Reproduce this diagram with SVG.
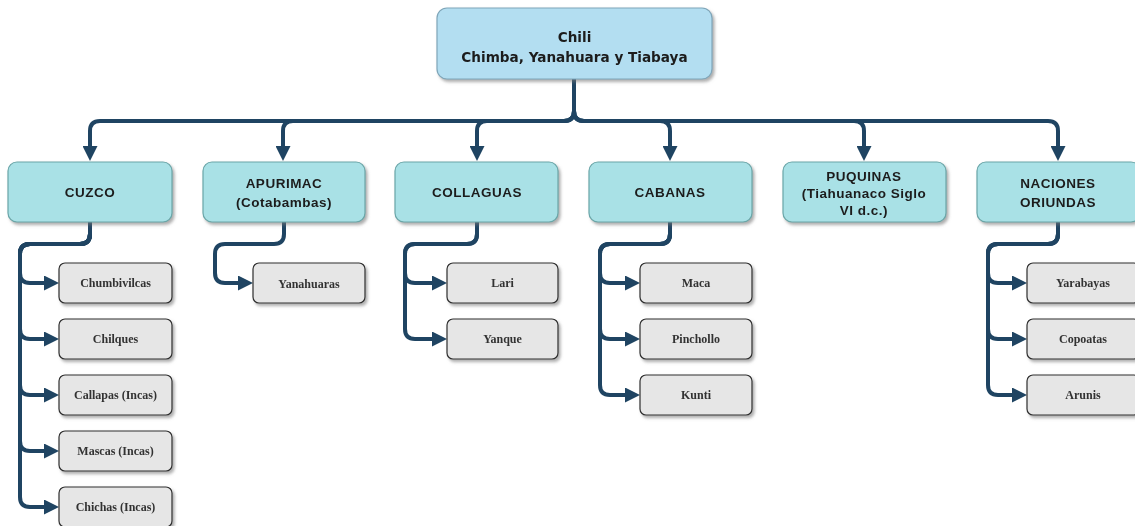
<svg xmlns="http://www.w3.org/2000/svg" width="1135" height="526" viewBox="0 0 1135 526">
<style>
.root{fill:#b3def1;stroke:#7fa6b9;stroke-width:1.2}
.main{fill:#a9e1e6;stroke:#6aa6a8;stroke-width:1.2}
.sub{fill:#e6e6e6;stroke:#2e2e2e;stroke-width:1.2}
.rt{font-family:"DejaVu Sans",Verdana,sans-serif;font-weight:bold;font-size:13.6px;fill:#1d1d1d;text-anchor:middle}
.mt{font-family:"Liberation Sans",Arial,sans-serif;font-weight:bold;font-size:13.5px;letter-spacing:0.5px;fill:#1d1d1d;text-anchor:middle}
.st{font-family:"Liberation Serif","Times New Roman",serif;font-weight:bold;font-size:12px;fill:#333;text-anchor:middle}
.c{fill:none;stroke:#1f4462;stroke-width:4;marker-end:url(#ah)}
</style>
<defs>
<marker id="ah" viewBox="0 0 10 10" refX="0" refY="5" markerWidth="15" markerHeight="15" markerUnits="userSpaceOnUse" orient="auto">
<path d="M0,0 L10,5 L0,10 z" fill="#1f4462"/>
</marker>
<filter id="sh" x="-10%" y="-10%" width="130%" height="140%">
<feDropShadow dx="2" dy="2.5" stdDeviation="1.5" flood-color="#777" flood-opacity="0.6"/>
</filter>
</defs>

<g id="connectors">
<path class="c" d="M574,79 V111 Q574,121 564,121 H100 Q90,121 90,131 V146"/>
<path class="c" d="M574,79 V111 Q574,121 564,121 H293 Q283,121 283,131 V146"/>
<path class="c" d="M574,79 V111 Q574,121 564,121 H487 Q477,121 477,131 V146"/>
<path class="c" d="M574,79 V111 Q574,121 584,121 H660 Q670,121 670,131 V146"/>
<path class="c" d="M574,79 V111 Q574,121 584,121 H854 Q864,121 864,131 V146"/>
<path class="c" d="M574,79 V111 Q574,121 584,121 H1048 Q1058,121 1058,131 V146"/>

<path class="c" d="M90,222 V234 Q90,244 80,244 H30 Q20,244 20,254 V273 Q20,283 30,283 H44"/>
<path class="c" d="M90,222 V234 Q90,244 80,244 H30 Q20,244 20,254 V329 Q20,339 30,339 H44"/>
<path class="c" d="M90,222 V234 Q90,244 80,244 H30 Q20,244 20,254 V385 Q20,395 30,395 H44"/>
<path class="c" d="M90,222 V234 Q90,244 80,244 H30 Q20,244 20,254 V441 Q20,451 30,451 H44"/>
<path class="c" d="M90,222 V234 Q90,244 80,244 H30 Q20,244 20,254 V497 Q20,507 30,507 H44"/>

<path class="c" d="M284,222 V234 Q284,244 274,244 H225 Q215,244 215,254 V273 Q215,283 225,283 H238"/>

<path class="c" d="M477,222 V234 Q477,244 467,244 H415 Q405,244 405,254 V273 Q405,283 415,283 H432"/>
<path class="c" d="M477,222 V234 Q477,244 467,244 H415 Q405,244 405,254 V329 Q405,339 415,339 H432"/>

<path class="c" d="M670,222 V234 Q670,244 660,244 H610 Q600,244 600,254 V273 Q600,283 610,283 H625"/>
<path class="c" d="M670,222 V234 Q670,244 660,244 H610 Q600,244 600,254 V329 Q600,339 610,339 H625"/>
<path class="c" d="M670,222 V234 Q670,244 660,244 H610 Q600,244 600,254 V385 Q600,395 610,395 H625"/>

<path class="c" d="M1058,222 V234 Q1058,244 1048,244 H998 Q988,244 988,254 V273 Q988,283 998,283 H1012"/>
<path class="c" d="M1058,222 V234 Q1058,244 1048,244 H998 Q988,244 988,254 V329 Q988,339 998,339 H1012"/>
<path class="c" d="M1058,222 V234 Q1058,244 1048,244 H998 Q988,244 988,254 V385 Q988,395 998,395 H1012"/>
</g>

<g id="root" filter="url(#sh)">
<rect class="root" x="437" y="8" width="275" height="71" rx="10"/>
<text class="rt" x="574.5" y="42">Chili</text>
<text class="rt" x="574.5" y="62">Chimba, Yanahuara y Tiabaya</text>
</g>

<g id="cuzco" filter="url(#sh)">
<rect class="main" x="8" y="162" width="164" height="60" rx="9"/>
<text class="mt" x="90" y="197">CUZCO</text>
</g>
<g id="apurimac" filter="url(#sh)">
<rect class="main" x="203" y="162" width="162" height="60" rx="9"/>
<text class="mt" x="284" y="188">APURIMAC</text>
<text class="mt" x="284" y="207">(Cotabambas)</text>
</g>
<g id="collaguas" filter="url(#sh)">
<rect class="main" x="395" y="162" width="163" height="60" rx="9"/>
<text class="mt" x="477" y="197">COLLAGUAS</text>
</g>
<g id="cabanas" filter="url(#sh)">
<rect class="main" x="589" y="162" width="163" height="60" rx="9"/>
<text class="mt" x="670" y="197">CABANAS</text>
</g>
<g id="puquinas" filter="url(#sh)">
<rect class="main" x="783" y="162" width="163" height="60" rx="9"/>
<text class="mt" x="864" y="181">PUQUINAS</text>
<text class="mt" x="864" y="198">(Tiahuanaco Siglo</text>
<text class="mt" x="864" y="215">VI d.c.)</text>
</g>
<g id="naciones" filter="url(#sh)">
<rect class="main" x="977" y="162" width="163" height="60" rx="9"/>
<text class="mt" x="1058" y="188">NACIONES</text>
<text class="mt" x="1058" y="207">ORIUNDAS</text>
</g>

<g id="chumbivilcas" filter="url(#sh)"><rect class="sub" x="59" y="263" width="113" height="40" rx="6"/><text class="st" x="115.5" y="287">Chumbivilcas</text></g>
<g id="chilques" filter="url(#sh)"><rect class="sub" x="59" y="319" width="113" height="40" rx="6"/><text class="st" x="115.5" y="343">Chilques</text></g>
<g id="callapas" filter="url(#sh)"><rect class="sub" x="59" y="375" width="113" height="40" rx="6"/><text class="st" x="115.5" y="399">Callapas (Incas)</text></g>
<g id="mascas" filter="url(#sh)"><rect class="sub" x="59" y="431" width="113" height="40" rx="6"/><text class="st" x="115.5" y="455">Mascas (Incas)</text></g>
<g id="chichas" filter="url(#sh)"><rect class="sub" x="59" y="487" width="113" height="40" rx="6"/><text class="st" x="115.5" y="511">Chichas (Incas)</text></g>

<g id="yanahuaras" filter="url(#sh)"><rect class="sub" x="253" y="263" width="112" height="40" rx="6"/><text class="st" x="309" y="288">Yanahuaras</text></g>

<g id="lari" filter="url(#sh)"><rect class="sub" x="447" y="263" width="111" height="40" rx="6"/><text class="st" x="502.5" y="287">Lari</text></g>
<g id="yanque" filter="url(#sh)"><rect class="sub" x="447" y="319" width="111" height="40" rx="6"/><text class="st" x="502.5" y="343">Yanque</text></g>

<g id="maca" filter="url(#sh)"><rect class="sub" x="640" y="263" width="112" height="40" rx="6"/><text class="st" x="696" y="287">Maca</text></g>
<g id="pinchollo" filter="url(#sh)"><rect class="sub" x="640" y="319" width="112" height="40" rx="6"/><text class="st" x="696" y="343">Pinchollo</text></g>
<g id="kunti" filter="url(#sh)"><rect class="sub" x="640" y="375" width="112" height="40" rx="6"/><text class="st" x="696" y="399">Kunti</text></g>

<g id="yarabayas" filter="url(#sh)"><rect class="sub" x="1027" y="263" width="113" height="40" rx="6"/><text class="st" x="1083" y="287">Yarabayas</text></g>
<g id="copoatas" filter="url(#sh)"><rect class="sub" x="1027" y="319" width="113" height="40" rx="6"/><text class="st" x="1083" y="343">Copoatas</text></g>
<g id="arunis" filter="url(#sh)"><rect class="sub" x="1027" y="375" width="113" height="40" rx="6"/><text class="st" x="1083" y="399">Arunis</text></g>
</svg>
